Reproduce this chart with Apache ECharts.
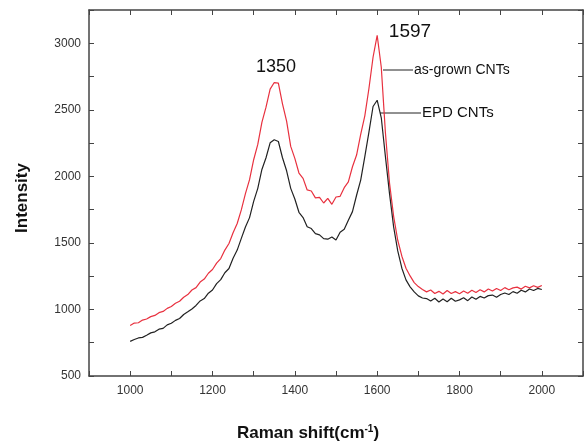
<!DOCTYPE html>
<html>
<head>
<meta charset="utf-8">
<script src="https://cdn.jsdelivr.net/npm/echarts@6/dist/echarts.min.js"></script>
<style>
  html, body { margin: 0; padding: 0; background: #fff; }
  #chart { width: 588px; height: 444px; }
</style>
</head>
<body>
<div id="chart"></div>
<script>
// Raman shift (cm-1), 1000..2000 step 10
var shifts = [];
for (var s = 1000; s <= 2000; s += 10) { shifts.push(s); }

// as-grown CNTs (红线)
var asGrown = [
  880, 898, 900, 920, 928, 946, 955, 976, 985, 1008,
  1022, 1046, 1062, 1092, 1112, 1146, 1164, 1206, 1228, 1272,
  1300, 1348, 1382, 1446, 1496, 1576, 1646, 1748, 1870, 1975,
  2125, 2240, 2405, 2520, 2655, 2705, 2700, 2545, 2415, 2225,
  2135, 2025, 1985, 1898, 1890, 1838, 1842, 1800, 1835, 1790,
  1845, 1850, 1915, 1958, 2072, 2160, 2315, 2455, 2660, 2895,
  3060, 2820, 2330, 1950, 1700, 1520, 1400, 1310, 1252, 1202,
  1172, 1150, 1132, 1146, 1120, 1136, 1116, 1142, 1120, 1134,
  1118, 1138, 1122, 1144, 1128, 1148, 1132, 1154, 1138, 1158,
  1143, 1164, 1148, 1162, 1168, 1153, 1174, 1162, 1178, 1166,
  1180
];

// EPD CNTs (黑线)
var epd = [
  760, 774, 786, 790, 806, 824, 832, 852, 858, 884,
  896, 918, 932, 962, 982, 1004, 1030, 1064, 1082, 1122,
  1146, 1194, 1224, 1276, 1308, 1384, 1446, 1534, 1620, 1690,
  1812, 1910, 2052, 2140, 2252, 2275, 2262, 2140, 2042, 1910,
  1830, 1730, 1690, 1622, 1608, 1570, 1560, 1532, 1528, 1545,
  1522, 1580, 1602, 1670, 1735, 1858, 1972, 2148, 2332, 2525,
  2572, 2440, 2150, 1870, 1620, 1440, 1310, 1222, 1170, 1132,
  1102, 1086, 1082, 1064, 1084, 1056, 1078, 1058, 1084, 1062,
  1072, 1088, 1066, 1094, 1076, 1098, 1086, 1104, 1108, 1092,
  1112, 1124, 1112, 1134, 1122, 1144, 1132, 1154, 1142, 1158,
  1150
];

var xLabels = [1000, 1200, 1400, 1600, 1800, 2000];
var yLabels = [500, 1000, 1500, 2000, 2500, 3000];

function pairs(xs, ys) {
  return xs.map(function (x, i) { return [x, ys[i]]; });
}

var myChart = echarts.init(document.getElementById('chart'));
var tickFont = { fontFamily: 'Liberation Sans, Arial, sans-serif', fontSize: 12, color: '#333' };
var axisLine = { show: true, lineStyle: { color: '#444', width: 1.5 } };

var option = {
  animation: false,
  backgroundColor: '#fff',
  grid: { left: 89, top: 10, right: 5, bottom: 68 },
  xAxis: [
    {
      type: 'value', min: 900, max: 2100, interval: 100,
      axisLine: axisLine,
      axisTick: { show: true, inside: true, length: 5, lineStyle: { color: '#444' } },
      axisLabel: Object.assign({
        margin: 9,
        formatter: function (v) { return xLabels.indexOf(v) >= 0 ? String(v) : ''; }
      }, tickFont),
      splitLine: { show: false }
    },
    {
      type: 'value', position: 'top', min: 900, max: 2100, interval: 100,
      axisLine: axisLine,
      axisTick: { show: true, inside: true, length: 5, lineStyle: { color: '#444' } },
      axisLabel: { show: false },
      splitLine: { show: false }
    }
  ],
  yAxis: [
    {
      type: 'value', min: 500, max: 3250, interval: 250,
      axisLine: axisLine,
      axisTick: { show: true, inside: true, length: 5, lineStyle: { color: '#444' } },
      axisLabel: Object.assign({
        margin: 8,
        formatter: function (v) { return yLabels.indexOf(v) >= 0 ? String(v) : ''; }
      }, tickFont),
      splitLine: { show: false }
    },
    {
      type: 'value', position: 'right', min: 500, max: 3250, interval: 250,
      axisLine: axisLine,
      axisTick: { show: true, inside: true, length: 5, lineStyle: { color: '#444' } },
      axisLabel: { show: false },
      splitLine: { show: false }
    }
  ],
  series: [
    {
      name: 'as-grown CNTs', type: 'line', data: pairs(shifts, asGrown),
      showSymbol: false, lineStyle: { color: '#e8313f', width: 1.2 }, z: 2
    },
    {
      name: 'EPD CNTs', type: 'line', data: pairs(shifts, epd),
      showSymbol: false, lineStyle: { color: '#222', width: 1.2 }, z: 3
    }
  ],
  graphic: [
    // 峰位标注
    { type: 'text', x: 276, y: 67, style: { text: '1350', fill: '#111', font: '18px Liberation Sans, Arial', align: 'center', verticalAlign: 'middle' } },
    { type: 'text', x: 410, y: 32, style: { text: '1597', fill: '#111', font: '19px Liberation Sans, Arial', align: 'center', verticalAlign: 'middle' } },
    // 图例引线
    { type: 'line', shape: { x1: 383, y1: 70, x2: 413, y2: 70 }, style: { stroke: '#222', lineWidth: 1 } },
    { type: 'text', x: 414, y: 70, style: { text: 'as-grown CNTs', fill: '#111', font: '14px Liberation Sans, Arial', verticalAlign: 'middle' } },
    { type: 'line', shape: { x1: 380, y1: 113, x2: 421, y2: 113 }, style: { stroke: '#222', lineWidth: 1 } },
    { type: 'text', x: 422, y: 113, style: { text: 'EPD CNTs', fill: '#111', font: '15px Liberation Sans, Arial', verticalAlign: 'middle' } },
    // 坐标轴标题
    { type: 'text', x: 22, y: 198, rotation: Math.PI / 2, style: { text: 'Intensity', fill: '#111', font: 'bold 17px Liberation Sans, Arial', align: 'center', verticalAlign: 'middle' } },
    { type: 'text', x: 237, y: 433, style: {
        text: '{t|Raman shift(cm}{s|-1}{t|)}', verticalAlign: 'middle',
        rich: {
          t: { font: 'bold 17px Liberation Sans, Arial', fill: '#111' },
          s: { font: 'bold 10px Liberation Sans, Arial', fill: '#111', verticalAlign: 'top', padding: [0, 0, 8, 0] }
        }
    } }
  ]
};

myChart.setOption(option);
window.addEventListener('resize', function () {
  myChart.resize();
});
</script>
</body>
</html>
